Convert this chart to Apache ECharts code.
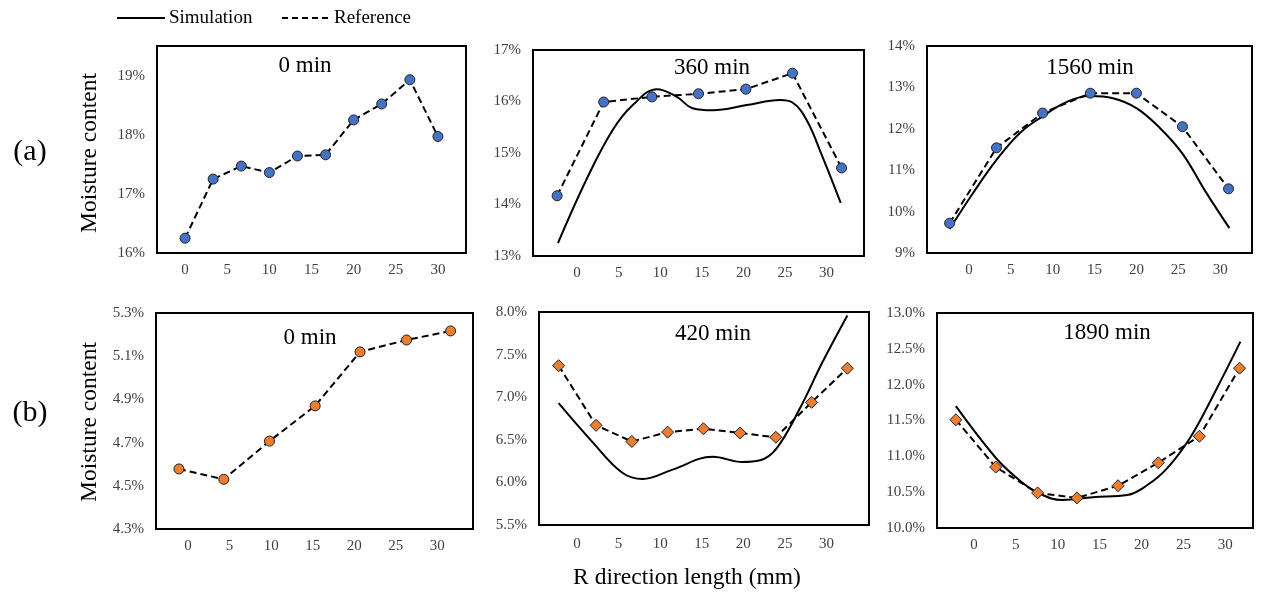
<!DOCTYPE html>
<html>
<head>
<meta charset="utf-8">
<script src="https://cdn.jsdelivr.net/npm/echarts@6/dist/echarts.min.js"></script>
<style>
html,body{margin:0;padding:0;background:#fff;}
#chart{width:1263px;height:595px;}
</style>
</head>
<body>
<div id="chart"></div>
<script>
// ---------- data ----------
const xTickLabels = [0, 5, 10, 15, 20, 25, 30];

// (a) 0 min
const a0RefX = [0, 3.33, 6.67, 10, 13.33, 16.67, 20, 23.33, 26.67, 30];
const a0RefY = [16.25, 17.25, 17.47, 17.36, 17.64, 17.66, 18.25, 18.52, 18.93, 17.97];
const a0YTicks = [16, 17, 18, 19];

// (a) 360 min
const a360RefX = [-2.4, 3.2, 9.0, 14.6, 20.3, 25.9, 31.8];
const a360RefY = [14.17, 15.99, 16.09, 16.15, 16.24, 16.55, 14.71];
const a360SimX = [-2.3, 1.2, 4.3, 6.7, 9.6, 12.0, 13.9, 16.3, 20.4, 24.4, 25.9, 27.6, 29.5, 31.7];
const a360SimY = [13.25, 14.51, 15.45, 15.93, 16.24, 16.09, 15.87, 15.83, 15.93, 16.03, 15.98, 15.64, 14.93, 14.03];
const a360YTicks = [13, 14, 15, 16, 17];

// (a) 1560 min
const a1560RefX = [-2.3, 3.3, 8.8, 14.5, 20.0, 25.5, 31.0];
const a1560RefY = [9.72, 11.54, 12.38, 12.86, 12.86, 12.05, 10.55];
const a1560SimX = [-2.3, 0.5, 3.3, 6.1, 8.8, 11.7, 14.5, 17.2, 20.0, 22.8, 25.5, 28.2, 31.1];
const a1560SimY = [9.58, 10.45, 11.25, 11.9, 12.3, 12.65, 12.79, 12.74, 12.5, 12.02, 11.4, 10.5, 9.6];
const a1560YTicks = [9, 10, 11, 12, 13, 14];

// (b) 0 min
const b0RefX = [-1.1, 4.3, 9.8, 15.3, 20.7, 26.3, 31.6];
const b0RefY = [4.578, 4.53, 4.707, 4.87, 5.12, 5.175, 5.217];
const b0YTicks = [4.3, 4.5, 4.7, 4.9, 5.1, 5.3];

// (b) 420 min
const b420RefX = [-2.2, 2.3, 6.6, 10.9, 15.2, 19.6, 23.9, 28.2, 32.5];
const b420RefY = [7.37, 6.67, 6.48, 6.59, 6.63, 6.58, 6.53, 6.94, 7.34];
const b420SimX = [-2.2, 1.9, 5.5, 7.9, 11.5, 16.3, 19.9, 22.0, 24.0, 26.8, 29.5, 32.5];
const b420SimY = [6.93, 6.47, 6.11, 6.04, 6.15, 6.30, 6.24, 6.26, 6.40, 6.87, 7.41, 7.96];
const b420YTicks = [5.5, 6.0, 6.5, 7.0, 7.5, 8.0];

// (b) 1890 min
const b1890RefX = [-2.15, 2.6, 7.6, 12.3, 17.2, 22.0, 26.9, 31.7];
const b1890RefY = [11.51, 10.85, 10.49, 10.42, 10.59, 10.91, 11.28, 12.23];
const b1890SimX = [-2.15, 2.6, 5.1, 7.5, 10.6, 14.2, 18.3, 20.7, 23.1, 25.8, 28.6, 31.8];
const b1890SimY = [11.70, 10.98, 10.70, 10.50, 10.39, 10.43, 10.46, 10.6, 10.84, 11.26, 11.86, 12.6];
const b1890YTicks = [10.0, 10.5, 11.0, 11.5, 12.0, 12.5, 13.0];

const titles = ['0 min', '360 min', '1560 min', '0 min', '420 min', '1890 min'];

// ---------- build ----------
const zip = (xs, ys) => xs.map((x, i) => [x, ys[i]]);
const SERIF = '"Liberation Serif", "Times New Roman", serif';
const BLUE = '#4472C4', ORANGE = '#ED7D31';

const panels = [
  {grid:{left:157, top:46, width:309, height:207}, x:[-3.33, 33.33], y:[16, 19.5], yt:a0YTicks, dec:0,
   ref:zip(a0RefX, a0RefY), sim:null, color:BLUE, sym:'circle', symSize:10, title:[305, 66], lm:10},
  {grid:{left:533, top:50, width:331, height:206}, x:[-5.3, 34.5], y:[13, 17], yt:a360YTicks, dec:0,
   ref:zip(a360RefX, a360RefY), sim:zip(a360SimX, a360SimY), color:BLUE, sym:'circle', symSize:10, title:[712, 68], lm:10},
  {grid:{left:927, top:46, width:325, height:207}, x:[-5.0, 33.8], y:[9, 14], yt:a1560YTicks, dec:0,
   ref:zip(a1560RefX, a1560RefY), sim:zip(a1560SimX, a1560SimY), color:BLUE, sym:'circle', symSize:10, title:[1090, 68], lm:10},
  {grid:{left:156, top:313, width:317, height:216}, x:[-3.86, 34.3], y:[4.3, 5.3], yt:b0YTicks, dec:1,
   ref:zip(b0RefX, b0RefY), sim:null, color:ORANGE, sym:'circle', symSize:10, title:[310, 338], lm:10},
  {grid:{left:539, top:312, width:330, height:213}, x:[-4.56, 35.1], y:[5.5, 8.0], yt:b420YTicks, dec:1,
   ref:zip(b420RefX, b420RefY), sim:zip(b420SimX, b420SimY), color:ORANGE, sym:'diamond', symSize:12, title:[713, 334], lm:12},
  {grid:{left:937, top:313, width:316, height:215}, x:[-4.4, 33.3], y:[10, 13], yt:b1890YTicks, dec:1,
   ref:zip(b1890RefX, b1890RefY), sim:zip(b1890SimX, b1890SimY), color:ORANGE, sym:'diamond', symSize:12, title:[1107, 333], lm:10}
];

const option = {
  backgroundColor:'#fff',
  animation:false,
  grid:[], xAxis:[], yAxis:[], series:[], graphic:[]
};

panels.forEach((p, i) => {
  option.grid.push(Object.assign({show:true, borderColor:'#000', borderWidth:2, backgroundColor:'transparent'}, p.grid));
  option.xAxis.push({
    type:'value', gridIndex:i, min:p.x[0], max:p.x[1],
    axisLine:{show:false}, axisTick:{show:false}, splitLine:{show:false},
    axisLabel:{customValues:xTickLabels, color:'#404040', fontFamily:SERIF, fontSize:15, margin:p.lm,
      formatter:v => String(Math.round(v))}
  });
  option.yAxis.push({
    type:'value', gridIndex:i, min:p.y[0], max:p.y[1],
    axisLine:{show:false}, axisTick:{show:false}, splitLine:{show:false},
    axisLabel:{customValues:p.yt, color:'#404040', fontFamily:SERIF, fontSize:15, margin:12,
      formatter:v => v.toFixed(p.dec) + '%'}
  });
  if (p.sim) {
    option.series.push({
      name:'Simulation', type:'line', xAxisIndex:i, yAxisIndex:i, data:p.sim, smooth:0.4,
      showSymbol:false, symbol:'none', lineStyle:{color:'#000', width:2}, z:2
    });
  }
  option.series.push({
    name:'Reference', type:'line', xAxisIndex:i, yAxisIndex:i, data:p.ref,
    symbol:p.sym, symbolSize:p.symSize,
    itemStyle:{color:p.color, borderColor:'#222', borderWidth:1},
    lineStyle:{color:'#000', width:2, type:[7,4]}, z:3
  });
  option.graphic.push({type:'text', x:p.title[0], y:p.title[1], z:10,
    style:{text:titles[i], textAlign:'center', textVerticalAlign:'middle', font:'23px ' + SERIF, fill:'#000'}});
});

// legend and shared labels
option.graphic.push(
  {type:'line', shape:{x1:117, y1:18, x2:165, y2:18}, style:{stroke:'#000', lineWidth:2}},
  {type:'text', x:169, y:18, style:{text:'Simulation', textAlign:'left', textVerticalAlign:'middle', font:'19px ' + SERIF, fill:'#000'}},
  {type:'line', shape:{x1:282, y1:18, x2:330, y2:18}, style:{stroke:'#000', lineWidth:2, lineDash:[6,4]}},
  {type:'text', x:334, y:18, style:{text:'Reference', textAlign:'left', textVerticalAlign:'middle', font:'19px ' + SERIF, fill:'#000'}},
  {type:'text', x:30, y:152, style:{text:'(a)', textAlign:'center', textVerticalAlign:'middle', font:'30px ' + SERIF, fill:'#000'}},
  {type:'text', x:30, y:413, style:{text:'(b)', textAlign:'center', textVerticalAlign:'middle', font:'30px ' + SERIF, fill:'#000'}},
  {type:'text', x:90, y:153, rotation:Math.PI/2, style:{text:'Moisture content', textAlign:'center', textVerticalAlign:'middle', font:'23.5px ' + SERIF, fill:'#000'}},
  {type:'text', x:90, y:422, rotation:Math.PI/2, style:{text:'Moisture content', textAlign:'center', textVerticalAlign:'middle', font:'23.5px ' + SERIF, fill:'#000'}},
  {type:'text', x:687, y:578, style:{text:'R direction length (mm)', textAlign:'center', textVerticalAlign:'middle', font:'23.5px ' + SERIF, fill:'#000'}}
);

const chart = echarts.init(document.getElementById('chart'), null, {renderer:'canvas'});
chart.setOption(option);
</script>
</body>
</html>
